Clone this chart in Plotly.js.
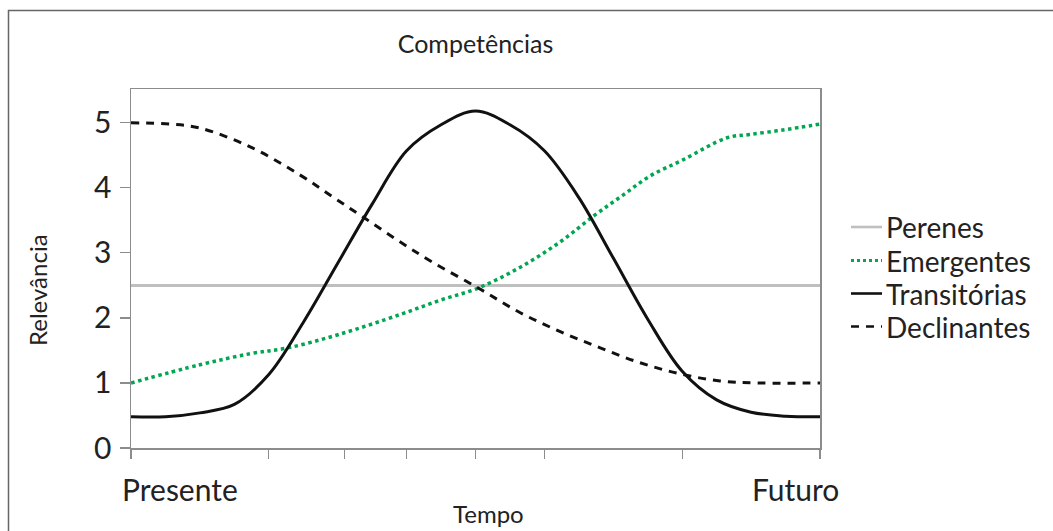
<!DOCTYPE html>
<html>
<head>
<meta charset="utf-8">
<script src="https://cdn.plot.ly/plotly-3.0.1.min.js"></script>
<style>
html,body{margin:0;padding:0;background:#fff;}
#chart{width:1053px;height:531px;}
</style>
</head>
<body>
<div id="chart"></div>
<script>
// ---- data ----
const seriesNames = ["Perenes", "Emergentes", "Transitórias", "Declinantes"];

const perenesX = [0, 100];
const perenesY = [2.5, 2.5];

const emergentesX = [0, 10, 17.3, 22.8, 30.3, 39.0, 44.8, 50.4, 56.5, 62.3, 67.3, 71.3, 75.3, 80.1, 86.5, 89.8, 94.6, 100];
const emergentesY = [1.0, 1.28, 1.45, 1.54, 1.75, 2.05, 2.27, 2.46, 2.78, 3.17, 3.58, 3.88, 4.18, 4.43, 4.77, 4.82, 4.89, 4.98];

const transitoriasX = [0, 5, 10, 15, 20, 25, 30, 35, 40, 45, 50, 55, 60, 65, 70, 75, 80, 85, 90, 95, 100];
const transitoriasY = [0.48, 0.48, 0.54, 0.67, 1.13, 1.93, 2.84, 3.75, 4.57, 4.97, 5.18, 4.97, 4.57, 3.85, 2.92, 1.98, 1.18, 0.74, 0.55, 0.49, 0.48];

const declinantesX = [0, 5.7, 10, 17.3, 24.5, 29.3, 33.7, 38.6, 43.4, 50.4, 56.5, 62.3, 68.1, 73.9, 79.7, 85.5, 91.3, 100];
const declinantesY = [5.0, 4.98, 4.92, 4.63, 4.2, 3.86, 3.55, 3.2, 2.88, 2.46, 2.08, 1.79, 1.54, 1.31, 1.14, 1.03, 1.0, 1.0];

const yTickVals = [0, 1, 2, 3, 4, 5];
const xTickVals = [0, 20, 31, 40, 50, 60, 80, 100];
const endLabels = ["Presente", "Futuro"];

const titleText = "Competências";
const xTitleText = "Tempo";
const yTitleText = "Relevância";

// ---- chart ----
const FONT = "Lato, 'Open Sans', sans-serif";
const TXT = "#222222";

// plot area in pixels (for placing text outside the axes)
const PL = 131, PR = 820, PT = 89, PB = 448;
const px = v => (v - PL) / (PR - PL);
const py = v => (PB - v) / (PB - PT);

const styles = [
  {color: "#bfbfbf", width: 3},
  {color: "#00a651", width: 3.5, dash: "dot"},
  {color: "#111111", width: 3},
  {color: "#111111", width: 3, dash: "8px,7px"}
];
const xs = [perenesX, emergentesX, transitoriasX, declinantesX];
const ys = [perenesY, emergentesY, transitoriasY, declinantesY];

const traces = seriesNames.map((n, i) => ({
  x: xs[i], y: ys[i], name: n, mode: "lines", showlegend: false,
  line: Object.assign({shape: i === 0 ? "linear" : "spline", smoothing: 1}, styles[i])
}));

// legend drawn as shapes + text
const legendY = [227, 260.5, 293.5, 326.5];
const legendShapes = seriesNames.map((n, i) => ({
  type: "line", xref: "paper", yref: "paper",
  x0: px(851), x1: px(882), y0: py(legendY[i]), y1: py(legendY[i]),
  line: Object.assign({}, styles[i], {width: i === 1 ? 3 : 2.6})
}));
const legendText = seriesNames.map((n, i) => ({
  text: n, xref: "paper", yref: "paper", x: px(884), y: py(legendY[i]),
  xanchor: "left", yanchor: "middle", showarrow: false,
  font: {family: FONT, size: 28, color: TXT}
}));

const layout = {
  width: 1053, height: 531,
  margin: {l: PL, r: 1053 - PR, t: PT, b: 531 - PB, pad: 0},
  paper_bgcolor: "#ffffff", plot_bgcolor: "#ffffff",
  font: {family: FONT, color: TXT},
  showlegend: false,
  title: {text: titleText, font: {family: FONT, size: 25, color: TXT},
          x: 0.5, xref: "paper", xanchor: "center", y: 1 - 44/531, yanchor: "middle"},
  xaxis: {
    range: [0, 100], tickvals: xTickVals, ticktext: xTickVals.map(() => ""),
    ticks: "outside", ticklen: 9, tickcolor: "#8c8c8c", tickwidth: 1.2,
    showline: true, linecolor: "#8c8c8c", linewidth: 1.5, mirror: true,
    showgrid: false, zeroline: false, fixedrange: true
  },
  yaxis: {
    range: [0, 5.52], tickvals: yTickVals,
    ticks: "outside", ticklen: 10, tickcolor: "#8c8c8c", tickwidth: 1.2,
    tickfont: {family: FONT, size: 30, color: TXT}, ticklabelstandoff: 2,
    showline: true, linecolor: "#8c8c8c", linewidth: 1.5, mirror: true,
    showgrid: false, zeroline: false, fixedrange: true
  },
  annotations: [
    {text: endLabels[0], xref: "paper", yref: "paper", x: px(180), y: py(489),
     xanchor: "center", yanchor: "middle", showarrow: false, font: {family: FONT, size: 30, color: TXT}},
    {text: endLabels[1], xref: "paper", yref: "paper", x: px(795), y: py(489),
     xanchor: "center", yanchor: "middle", showarrow: false, font: {family: FONT, size: 30, color: TXT}},
    {text: xTitleText, xref: "paper", yref: "paper", x: px(488), y: py(513),
     xanchor: "center", yanchor: "middle", showarrow: false, font: {family: FONT, size: 24, color: TXT}},
    {text: yTitleText, xref: "paper", yref: "paper", x: px(37), y: py(290),
     xanchor: "center", yanchor: "middle", textangle: -90, showarrow: false, font: {family: FONT, size: 24, color: TXT}}
  ].concat(legendText),
  shapes: [
    {type: "rect", xref: "paper", yref: "paper", x0: px(8.5), x1: 2, y0: -1, y1: py(10.5),
     line: {color: "#666666", width: 1.5}, fillcolor: "rgba(0,0,0,0)", layer: "below"}
  ].concat(legendShapes)
};

Plotly.newPlot("chart", traces, layout, {displayModeBar: false, staticPlot: true});
</script>
</body>
</html>
